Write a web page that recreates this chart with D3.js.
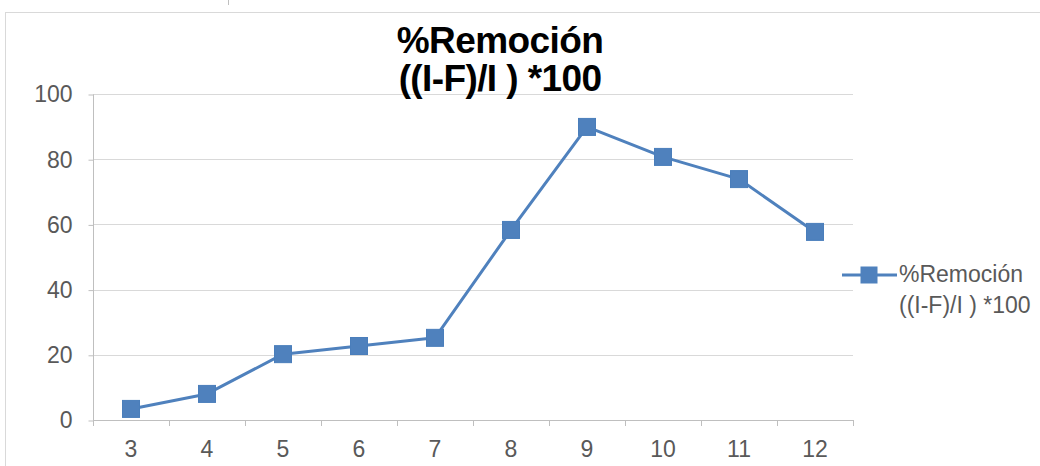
<!DOCTYPE html>
<html>
<head>
<meta charset="utf-8">
<script src="https://cdn.jsdelivr.net/npm/d3@7"></script>
<style>
  body { margin: 0; background: #fff; }
  svg text { font-family: "Liberation Sans", Arial, sans-serif; }
</style>
</head>
<body>
<div id="chart"></div>
<script>
// data
const categories = ['3', '4', '5', '6', '7', '8', '9', '10', '11', '12'];
const removal = [3.4, 8.0, 20.2, 22.7, 25.2, 58.3, 89.9, 80.7, 73.9, 57.7];
const yTicks = [0, 20, 40, 60, 80, 100];
const titleLines = ['%Remoción', '((I-F)/I ) *100'];
const seriesName = ['%Remoción', '((I-F)/I ) *100'];

const width = 1040;
const height = 466;
const blue = '#4f81bd';
const textGray = '#595959';

const svg = d3.select('#chart')
  .append('svg')
  .attr('width', width)
  .attr('height', height);

// chart frame
svg.append('rect')
  .attr('x', 5.5).attr('y', 12.5)
  .attr('width', 1060).attr('height', 500)
  .attr('fill', 'none')
  .attr('stroke', '#d9d9d9');

svg.append('line')
  .attr('x1', 228.5).attr('x2', 228.5)
  .attr('y1', 0).attr('y2', 5)
  .attr('stroke', '#bfbfbf');

const usableArea = { left: 93, right: 853, top: 94, bottom: 420 };

const xScale = d3.scaleBand()
  .domain(categories)
  .range([usableArea.left, usableArea.right]);

const yScale = d3.scaleLinear()
  .domain([0, 100])
  .range([usableArea.bottom, usableArea.top]);

// gridlines
svg.append('g')
  .selectAll('line')
  .data(yTicks.filter((d) => d > 0))
  .join('line')
  .attr('x1', usableArea.left)
  .attr('x2', usableArea.right)
  .attr('y1', (d) => Math.round(yScale(d)) + 0.5)
  .attr('y2', (d) => Math.round(yScale(d)) + 0.5)
  .attr('stroke', '#d9d9d9')
  .attr('stroke-width', 1);

// y axis
const yAxis = svg.append('g')
  .attr('transform', `translate(${usableArea.left + 0.5}, 0.5)`)
  .call(d3.axisLeft(yScale).tickValues(yTicks).tickSize(5).tickPadding(16));
yAxis.select('.domain').attr('stroke', '#bfbfbf').attr('d', `M0,${usableArea.top}V${usableArea.bottom}`);
yAxis.selectAll('.tick line').attr('stroke', '#bfbfbf');
yAxis.selectAll('.tick text')
  .attr('fill', textGray)
  .style('font-size', '23px');

// x axis: ticks sit between categories
const bounds = categories.map((c) => xScale(c)).concat([usableArea.right]);
const xAxis = svg.append('g').attr('class', 'x-axis');
xAxis.append('line')
  .attr('x1', usableArea.left).attr('x2', usableArea.right)
  .attr('y1', usableArea.bottom + 0.5).attr('y2', usableArea.bottom + 0.5)
  .attr('stroke', '#bfbfbf');
xAxis.selectAll('line.tk')
  .data(bounds)
  .join('line')
  .attr('class', 'tk')
  .attr('x1', (d) => Math.round(d) + 0.5)
  .attr('x2', (d) => Math.round(d) + 0.5)
  .attr('y1', usableArea.bottom)
  .attr('y2', usableArea.bottom + 6)
  .attr('stroke', '#bfbfbf');
xAxis.selectAll('text')
  .data(categories)
  .join('text')
  .attr('x', (d) => xScale(d) + xScale.bandwidth() / 2)
  .attr('y', 457)
  .attr('text-anchor', 'middle')
  .attr('fill', textGray)
  .style('font-size', '23px')
  .text((d) => d);

// series line
const points = categories.map((c, i) => ({ cat: c, value: removal[i] }));
const line = d3.line()
  .x((d) => xScale(d.cat) + xScale.bandwidth() / 2)
  .y((d) => yScale(d.value));

svg.append('path')
  .datum(points)
  .attr('d', line)
  .attr('fill', 'none')
  .attr('stroke', blue)
  .attr('stroke-width', 3)
  .attr('stroke-linejoin', 'round');

const size = 17;
svg.append('g')
  .selectAll('rect')
  .data(points)
  .join('rect')
  .attr('x', (d) => xScale(d.cat) + xScale.bandwidth() / 2 - size / 2)
  .attr('y', (d) => yScale(d.value) - size / 2)
  .attr('width', size)
  .attr('height', size)
  .attr('fill', blue)
  .attr('stroke', '#4a7ebb')
  .attr('stroke-width', 1);

// title
svg.append('g')
  .selectAll('text')
  .data(titleLines)
  .join('text')
  .attr('x', 500)
  .attr('y', (d, i) => 53 + i * 38)
  .attr('text-anchor', 'middle')
  .attr('fill', '#000')
  .style('font-weight', 'bold')
  .style('font-size', '37px')
  .style('letter-spacing', '-0.6px')
  .text((d) => d);

// legend
const legend = svg.append('g');
legend.append('line')
  .attr('x1', 842).attr('x2', 897)
  .attr('y1', 275).attr('y2', 275)
  .attr('stroke', blue)
  .attr('stroke-width', 3);
legend.append('rect')
  .attr('x', 869 - size / 2).attr('y', 275 - size / 2)
  .attr('width', size).attr('height', size)
  .attr('fill', blue);
legend.selectAll('text')
  .data(seriesName)
  .join('text')
  .attr('x', 899)
  .attr('y', (d, i) => 282 + i * 31)
  .attr('fill', textGray)
  .style('font-size', '23px')
  .text((d) => d);
</script>
</body>
</html>
